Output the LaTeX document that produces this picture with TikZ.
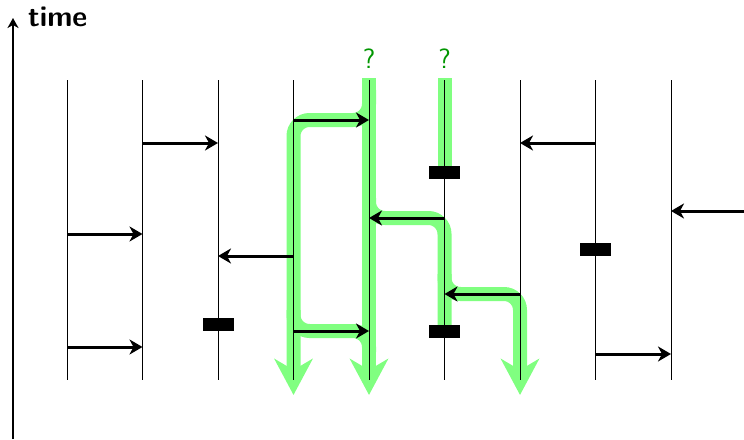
\documentclass[tikz,border=0pt]{standalone}
\usepackage{tikz}
\usetikzlibrary{arrows.meta}

\definecolor{tracegreen}{RGB}{128,255,128}
\definecolor{askgreen}{RGB}{0,150,0}

\tikzset{
  proc/.style={line width=0.8pt},
  msg/.style={line width=3pt,-{Stealth[length=13pt,width=15pt,inset=4pt]}},
  axis/.style={line width=2.8pt,-{Stealth[length=10pt,width=11pt,inset=3pt]}},
  blk/.style={fill=black,minimum width=31pt,minimum height=13pt,inner sep=0pt},
  trace/.style={draw=tracegreen,line width=14pt,rounded corners=16pt},
  tracehead/.style={trace,-{Stealth[length=36pt,width=38pt,inset=11pt]}},
  ask/.style={text=askgreen,font=\sffamily\fontsize{28}{28}\selectfont},
}

\begin{document}
\begin{tikzpicture}[x=1pt,y=-1pt]
\useasboundingbox (0,0) rectangle (744,439);

% Processes
  \foreach \i in {1,...,9} {
    \coordinate (p\i) at ({67+75.5*(\i-1)},80);
    \coordinate (b\i) at ({67+75.5*(\i-1)},380);
  }
  \coordinate (edge) at (744,211);
  \coordinate (t0) at (13,439);
  \coordinate (t1) at (13,18);

% Traces
  \draw[tracehead] (p5 |- 0,78) -- (b5 |- 0,395);
  \draw[tracehead] (p5 |- 0,90) -- (p5 |- 0,120) -- (p4 |- 0,120) -- (b4 |- 0,395);
  \draw[trace] (p4 |- 0,310) -- (p4 |- 0,331) -- (p5 |- 0,331) -- (p5 |- 0,352);
  \draw[trace] (p6 |- 0,78) -- (p6 |- 0,172);
  \draw[trace] (p5 |- 0,198) -- (p5 |- 0,218) -- (p6 |- 0,218) -- (p6 |- 0,331);
  \draw[tracehead] (p6 |- 0,274) -- (p6 |- 0,294) -- (p7 |- 0,294) -- (b7 |- 0,395);

  \node[ask] (ask5) at (p5 |- 0,59) {?};
  \node[ask] (ask6) at (p6 |- 0,59) {?};

  \foreach \i in {1,...,9}
    \draw[proc] (p\i) -- (b\i);

% Messages
  \draw[msg] (p4 |- 0,120) -- (p5 |- 0,120);
  \draw[msg] (p2 |- 0,143) -- (p3 |- 0,143);
  \draw[msg] (p8 |- 0,143) -- (p7 |- 0,143);
  \draw[msg] (edge) -- (p9 |- edge);
  \draw[msg] (p6 |- 0,218) -- (p5 |- 0,218);
  \draw[msg] (p1 |- 0,234) -- (p2 |- 0,234);
  \draw[msg] (p4 |- 0,256) -- (p3 |- 0,256);
  \draw[msg] (p7 |- 0,294) -- (p6 |- 0,294);
  \draw[msg] (p4 |- 0,331) -- (p5 |- 0,331);
  \draw[msg] (p1 |- 0,347) -- (p2 |- 0,347);
  \draw[msg] (p8 |- 0,354) -- (p9 |- 0,354);

% Checkpoints
  \node[blk] (c6a) at (p6 |- 0,172) {};
  \node[blk] (c8)  at (p8 |- 0,249) {};
  \node[blk] (c3)  at (p3 |- 0,324) {};
  \node[blk] (c6b) at (p6 |- 0,331) {};

% Time axis
  \draw[axis] (t0) -- (t1);
  \node[anchor=base west,font=\sffamily\bfseries\fontsize{29}{29}\selectfont,inner sep=0pt] (time) at (28,27) {time};

\end{tikzpicture}
\end{document}
